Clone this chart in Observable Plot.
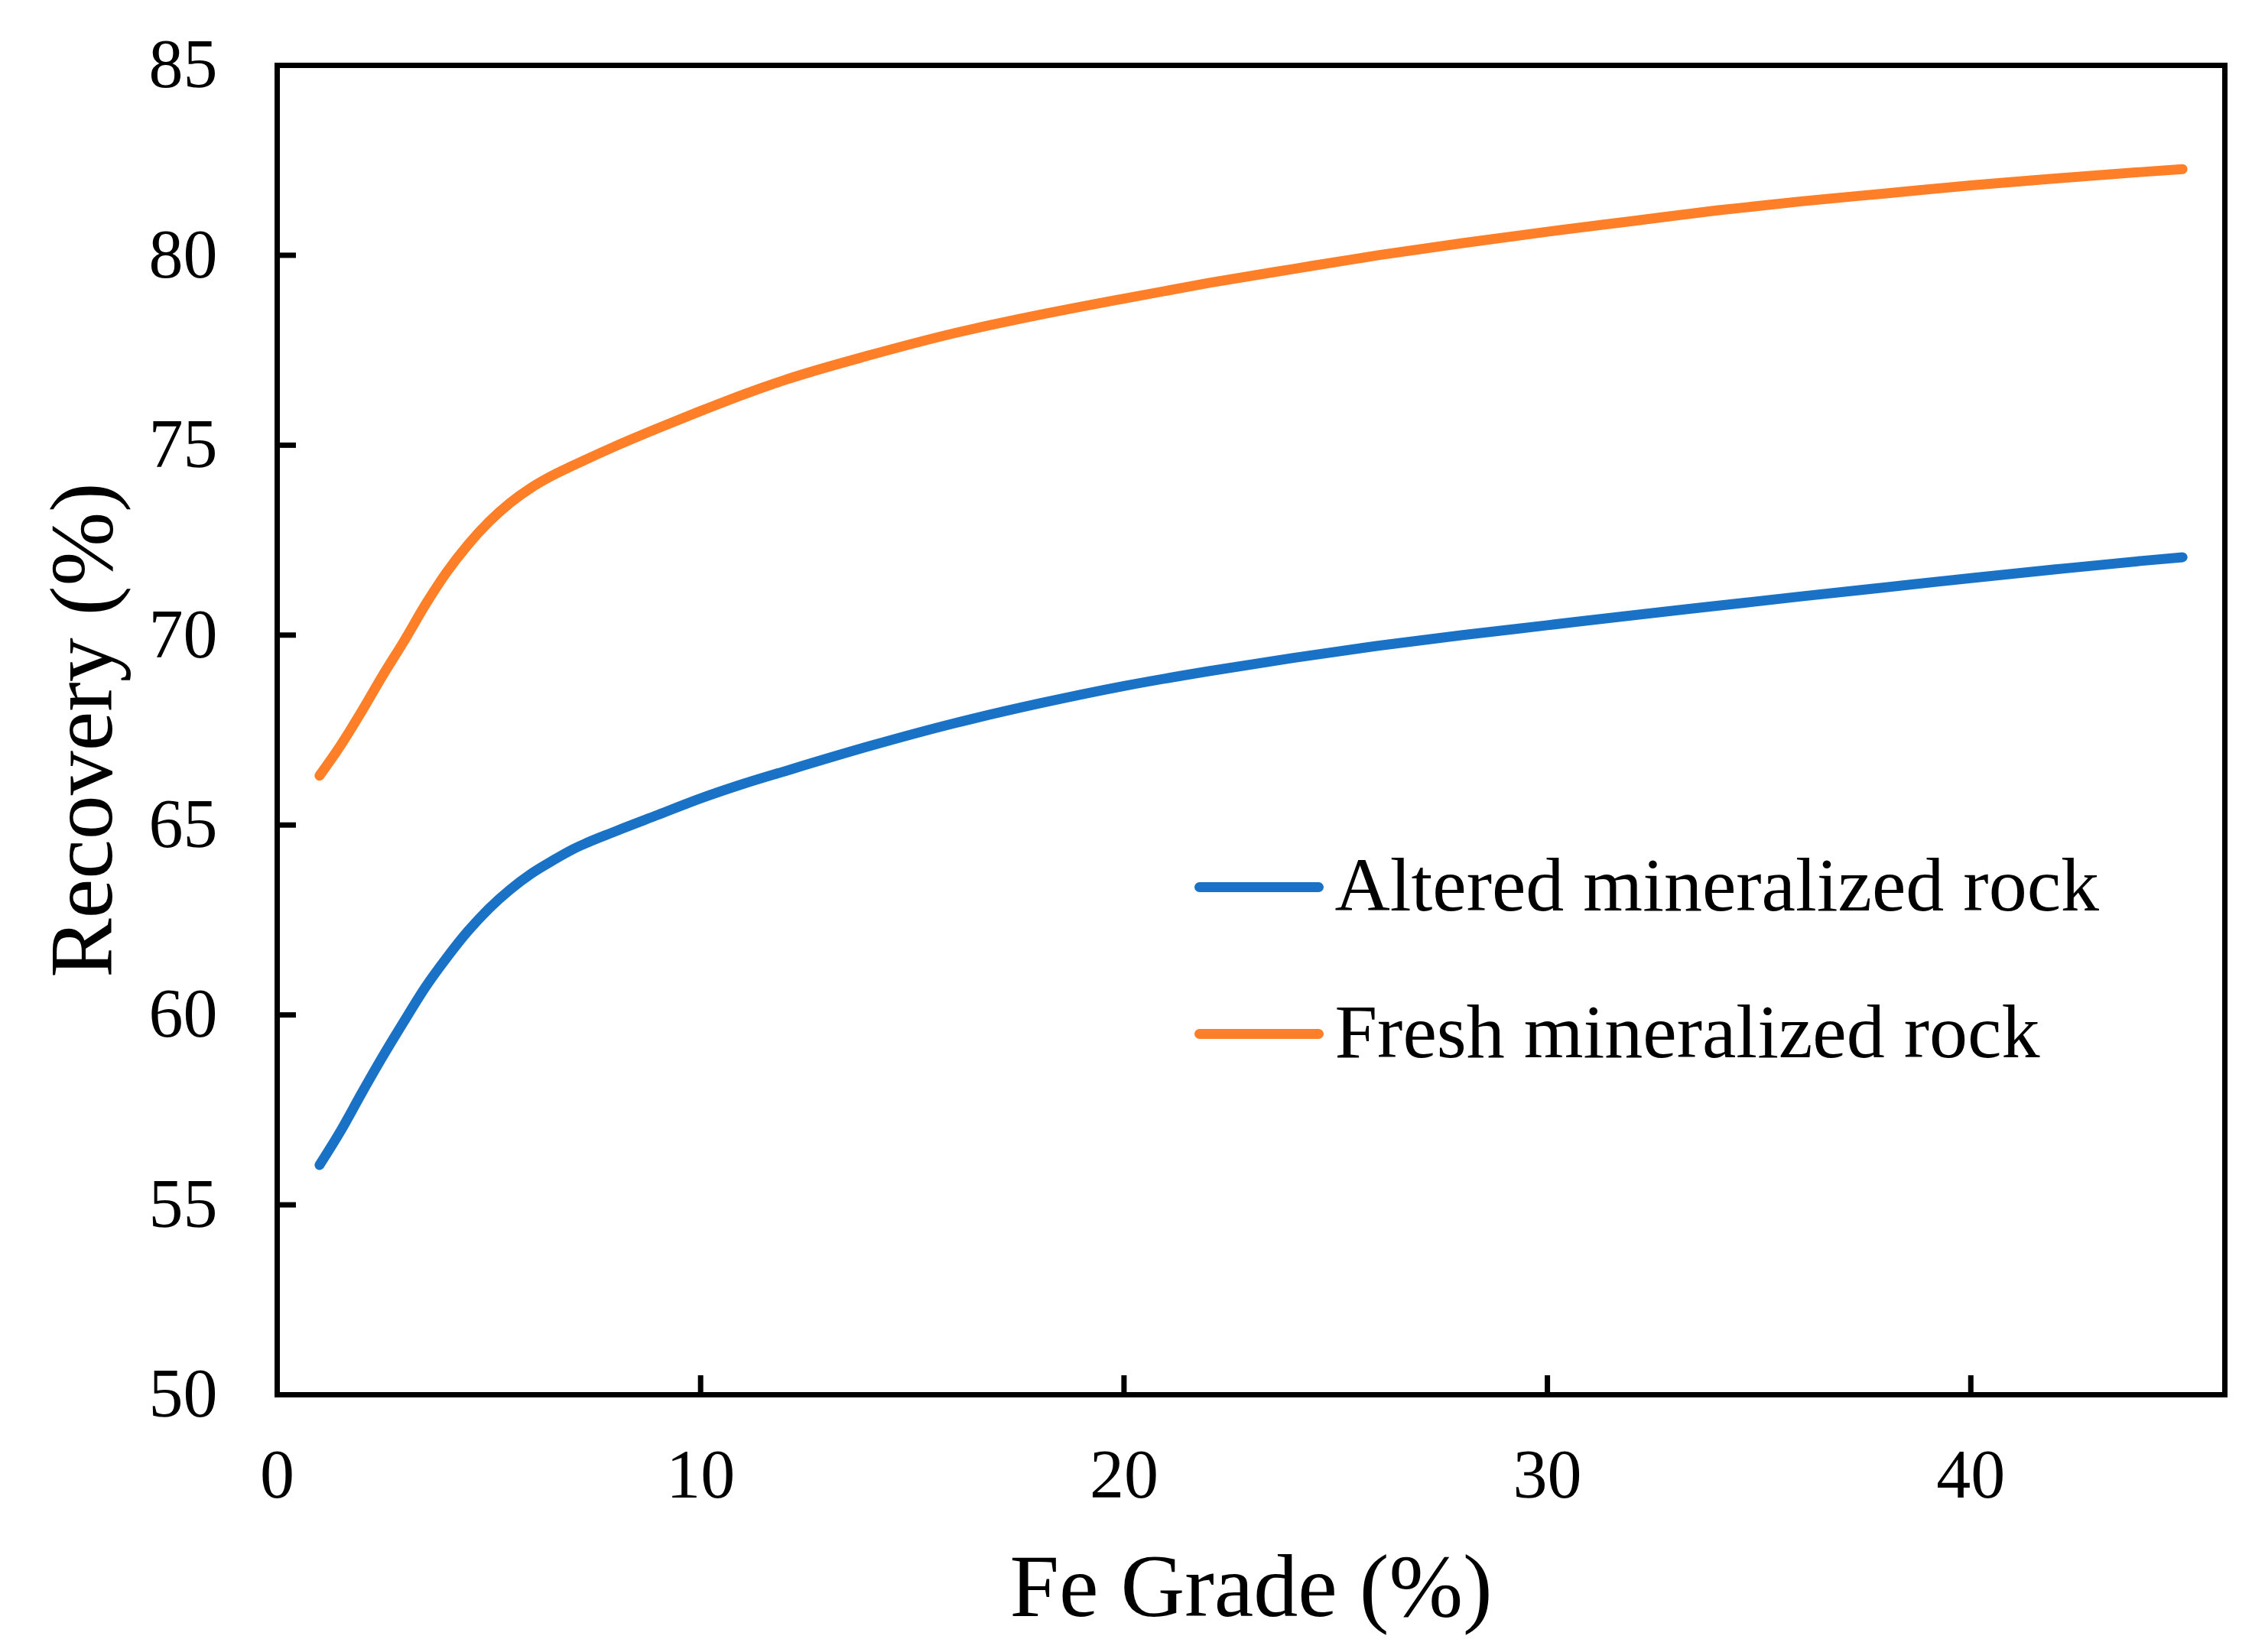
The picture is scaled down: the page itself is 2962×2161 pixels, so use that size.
<!DOCTYPE html>
<html>
<head>
<meta charset="utf-8">
<script src="https://cdn.jsdelivr.net/npm/d3@7"></script>
<script src="https://cdn.jsdelivr.net/npm/@observablehq/plot@0.6"></script>
<style>
  body { margin: 0; background: white; }
</style>
</head>
<body>
<div id="chart"></div>
<script>
// datos
const feGrade = [1, 1.5, 2, 2.5, 3, 3.5, 4, 4.5, 5, 5.5, 6, 6.5, 7, 8, 9, 10, 11, 12, 14, 16, 18,
  20, 22, 24, 26, 28, 30, 32, 34, 36, 38, 40, 42, 44, 45]

const altered = [56.05, 56.95, 57.95, 58.92, 59.84, 60.73, 61.5, 62.2, 62.8, 63.3, 63.72, 64.06,
  64.37, 64.84, 65.27, 65.7, 66.08, 66.42, 67.08, 67.68, 68.2, 68.66, 69.05, 69.4, 69.72, 70.0,
  70.26, 70.52, 70.77, 71.02, 71.26, 71.5, 71.73, 71.95, 72.05]

const fresh = [66.3, 67.1, 68.0, 68.95, 69.85, 70.8, 71.65, 72.37, 72.98, 73.48, 73.88, 74.2,
  74.47, 74.98, 75.45, 75.9, 76.33, 76.72, 77.37, 77.95, 78.43, 78.86, 79.27, 79.64, 80.0, 80.32,
  80.62, 80.9, 81.18, 81.42, 81.63, 81.84, 82.02, 82.19, 82.27]

const seriesNames = ['Altered mineralized rock', 'Fresh mineralized rock']
const seriesColors = ['#1a72c7', '#fe7f27']

const xTicks = [0, 10, 20, 30, 40]
const yTicks = [50, 55, 60, 65, 70, 75, 80, 85]

const data = [
  ...feGrade.map((x, i) => ({fe: x, rec: altered[i], serie: seriesNames[0]})),
  ...feGrade.map((x, i) => ({fe: x, rec: fresh[i], serie: seriesNames[1]})),
]

// trazo recto para la leyenda
const legendLine = {draw(context, l) { context.moveTo(0, 0); context.lineTo(0, -l) }}

let chart = Plot.plot({
  width: 2962,
  height: 2161,
  marginLeft: 362,
  marginRight: 53,
  marginTop: 85,
  marginBottom: 337,
  x: {domain: [0, 46]},
  y: {domain: [50, 85]},
  color: {domain: seriesNames, range: seriesColors},
  style: {
    fontFamily: '"Liberation Serif", "Times New Roman", serif',
    fontSize: 90,
    color: 'black',
    background: 'white',
  },
  marks: [
    Plot.axisX({ticks: xTicks, tickSize: -25, tickPadding: 96, strokeWidth: 7, label: null, fontSize: 90}),
    Plot.axisY({ticks: yTicks, tickSize: -25, tickPadding: 103, strokeWidth: 7, label: null, fontSize: 90}),
    Plot.line(data, {
      x: 'fe',
      y: 'rec',
      z: 'serie',
      stroke: 'serie',
      strokeWidth: 13,
      strokeLinecap: 'round',
      curve: 'monotone-x',
    }),
    Plot.frame({stroke: 'black', strokeWidth: 7}),
    // leyenda
    ...seriesNames.map((name, i) => Plot.vector([name], {
      frameAnchor: 'top-left',
      dx: 1206,
      dy: 1075 + i * 192,
      rotate: 90,
      length: 156,
      anchor: 'start',
      shape: legendLine,
      stroke: seriesColors[i],
      strokeWidth: 13,
      strokeLinecap: 'round',
    })),
    ...seriesNames.map((name, i) => Plot.text([name], {
      frameAnchor: 'top-left',
      dx: 1383,
      dy: 1105 + i * 192,
      text: d => d,
      textAnchor: 'start',
      lineAnchor: 'bottom',
      fontSize: 100,
      fill: 'black',
    })),
    // titulos de ejes
    Plot.text(['Fe Grade (%)'], {
      frameAnchor: 'bottom',
      dy: 289,
      text: d => d,
      textAnchor: 'middle',
      lineAnchor: 'bottom',
      fontSize: 116,
      fill: 'black',
    }),
    Plot.text(['Recovery (%)'], {
      frameAnchor: 'left',
      dx: -217,
      rotate: -90,
      text: d => d,
      textAnchor: 'middle',
      lineAnchor: 'bottom',
      fontSize: 116,
      fill: 'black',
    }),
  ],
})

d3.select('#chart').append(() => chart)
</script>
</body>
</html>
